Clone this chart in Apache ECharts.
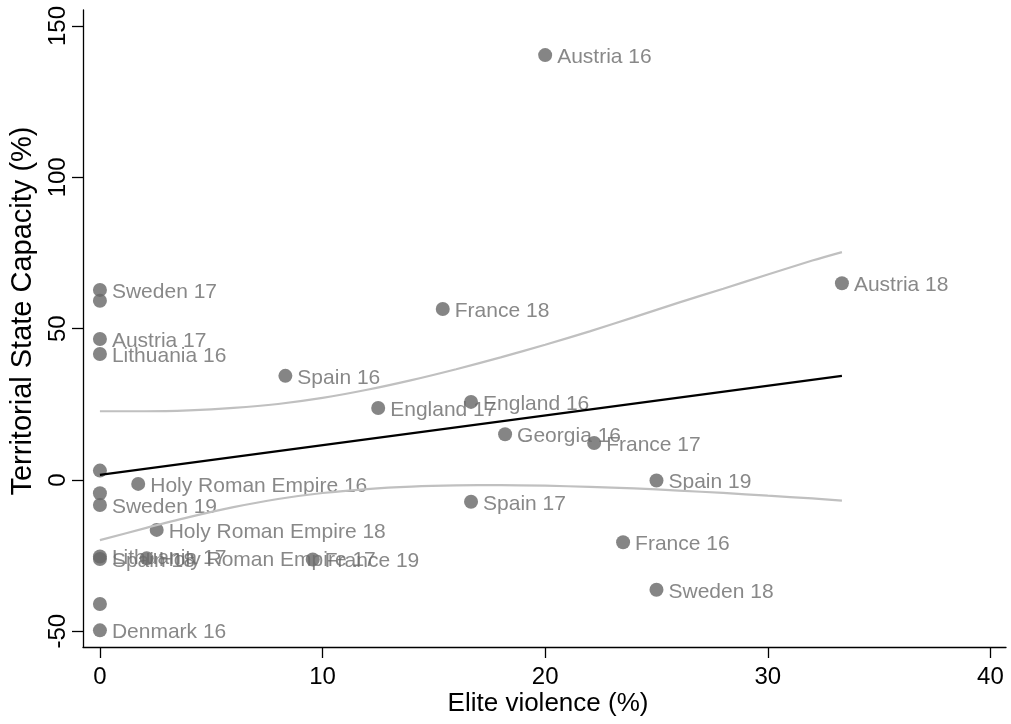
<!DOCTYPE html>
<html><head><meta charset="utf-8">
<script src="https://cdn.jsdelivr.net/npm/echarts@6/dist/echarts.min.js"></script>
<style>html,body{margin:0;padding:0;background:#fff}#c{width:1011px;height:724px}</style>
</head><body><div id="c"></div>
<script>
// ---- data ----
const pointLabels = ['Austria 16','Austria 18','Sweden 17','','France 18','Austria 17','Lithuania 16','Spain 16',
  'England 16','England 17','Georgia 16','France 17','','Spain 19','Holy Roman Empire 16','','Sweden 19','Spain 17',
  'Holy Roman Empire 18','France 16','Lithuania 17','Spain 18','Holy Roman Empire 17','France 19','Sweden 18','','Denmark 16'];
const eliteViolence = [20, 33.33, 0, 0, 15.4, 0, 0, 8.33,
  16.67, 12.5, 18.2, 22.2, 0, 25, 1.72, 0, 0, 16.67,
  2.55, 23.5, 0, 0, 2.1, 9.56, 25, 0, 0];
const stateCapacity = [140.4, 65.0, 62.8, 59.2, 56.5, 46.6, 41.6, 34.4,
  25.8, 23.8, 15.1, 12.2, 3.1, -0.2, -1.3, -4.4, -8.3, -7.2,
  -16.5, -20.6, -25.3, -26.1, -25.9, -26.3, -36.3, -41.0, -49.7];
const fitX = [0, 33.33];
const fitY = [1.65, 34.4];
const ciX = [0, 2, 4, 6, 8, 10, 12, 14, 16, 18, 20, 22, 24, 26, 28, 30, 32, 33.33];
const ciUpperY = [22.7, 22.7, 23.0, 23.8, 25.1, 27.1, 29.8, 33.0, 36.6, 40.5, 44.7, 49.1, 53.8, 58.6, 63.2, 67.9, 72.5, 75.3];
const ciLowerY = [-19.9, -16.0, -12.3, -9.0, -6.3, -4.3, -3.0, -2.2, -1.8, -1.7, -1.9, -2.3, -2.8, -3.5, -4.3, -5.2, -6.1, -6.8];
const xTicks = [0, 10, 20, 30, 40];
const yTicks = [-50, 0, 50, 100, 150];
const xTitle = 'Elite violence (%)';
const yTitle = 'Territorial State Capacity (%)';

const FONT = '"Liberation Sans", Arial, Helvetica, sans-serif';
const zip = (a, b) => a.map((v, i) => [v, b[i]]);
const points = eliteViolence.map((x, i) => ({ value: [x, stateCapacity[i]], name: pointLabels[i] }));

const chart = echarts.init(document.getElementById('c'), null, { renderer: 'canvas' });
chart.setOption({
  animation: false,
  backgroundColor: '#ffffff',
  grid: { left: 83, right: 5, top: 10, bottom: 77 },
  xAxis: {
    type: 'value', min: -0.76, max: 40.7,
    splitLine: { show: false },
    axisLine: { onZero: false, lineStyle: { color: '#000', width: 1.3 } },
    axisTick: { show: true, length: 11, customValues: xTicks, lineStyle: { color: '#000', width: 1.3 } },
    axisLabel: { customValues: xTicks, fontSize: 24, color: '#000', margin: 18, fontFamily: FONT }
  },
  yAxis: {
    type: 'value', min: -55.2, max: 155.3,
    splitLine: { show: false },
    axisLine: { show: true, onZero: false, lineStyle: { color: '#000', width: 1.3 } },
    axisTick: { show: true, length: 11, customValues: yTicks, lineStyle: { color: '#000', width: 1.3 } },
    axisLabel: { customValues: yTicks, rotate: 90, fontSize: 24, color: '#000', margin: 13, fontFamily: FONT }
  },
  graphic: [
    { type: 'text', x: 548, y: 704, style: { text: xTitle, fontSize: 26, fontFamily: FONT, fill: '#000', textAlign: 'center', textVerticalAlign: 'middle' } },
    { type: 'text', x: 23, y: 311, rotation: Math.PI / 2, style: { text: yTitle, fontSize: 29, fontFamily: FONT, fill: '#000', textAlign: 'center', textVerticalAlign: 'middle' } }
  ],
  series: [
    {
      type: 'scatter', data: points, symbol: 'circle', symbolSize: 14, z: 2,
      itemStyle: { color: '#666666' },
      label: { show: true, position: 'right', distance: 5, offset: [0, 2], formatter: p => p.name, fontSize: 21, fontFamily: FONT, color: '#6a6a6a' }
    },
    {
      type: 'line', data: zip(ciX, ciUpperY), smooth: 0.3, showSymbol: false, z: 3,
      lineStyle: { color: '#c0c0c0', width: 2.2 }
    },
    {
      type: 'line', data: zip(ciX, ciLowerY), smooth: 0.3, showSymbol: false, z: 3,
      lineStyle: { color: '#c0c0c0', width: 2.2 }
    },
    {
      type: 'line', data: zip(fitX, fitY), showSymbol: false, z: 4,
      lineStyle: { color: '#000', width: 2.2 }
    }
  ]
});
</script>
</body></html>
